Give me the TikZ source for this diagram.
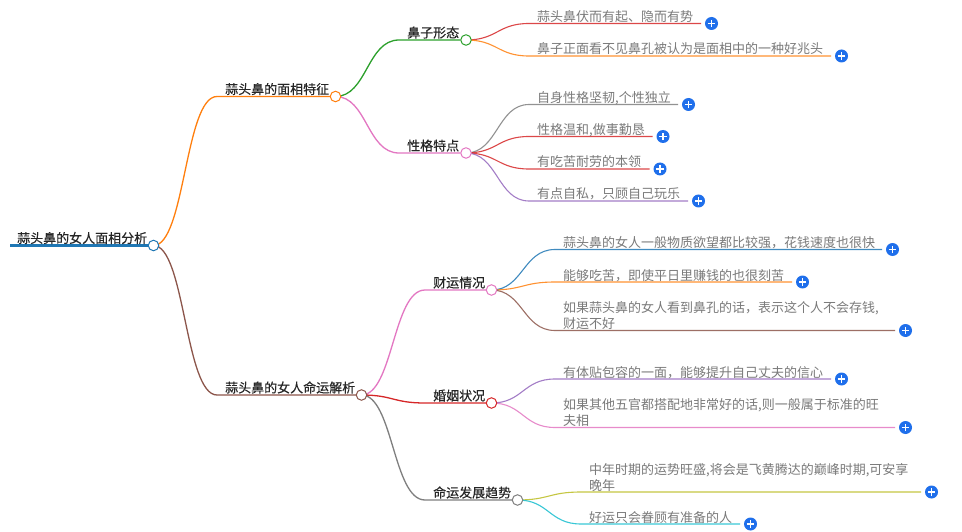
\documentclass[tikz,border=0pt]{standalone}
\usepackage{fontspec}
\setmainfont{Noto Sans CJK SC}
\newfontfamily\headfont[FakeBold=0.25]{Noto Sans CJK SC}
\usetikzlibrary{backgrounds}
\definecolor{cBlue}{HTML}{1F77B4}
\definecolor{cOrange}{HTML}{FF7F0E}
\definecolor{cGreen}{HTML}{2CA02C}
\definecolor{cRed}{HTML}{D62728}
\definecolor{cPurple}{HTML}{9467BD}
\definecolor{cBrown}{HTML}{8C564B}
\definecolor{cPink}{HTML}{E377C2}
\definecolor{cGray}{HTML}{7F7F7F}
\definecolor{cOlive}{HTML}{BCBD22}
\definecolor{cCyan}{HTML}{17BECF}
\definecolor{plusBlue}{HTML}{1F6FEB}
\newcommand{\fwc}{\char"FF0C\relax}
\tikzset{
  x=1pt,y=-1pt,
  branchdot/.style={circle,draw=#1,fill=white,line width=1pt,minimum size=10.5pt,inner sep=0pt},
  headtext/.style={anchor=base west,inner sep=0pt,font=\headfont\fontsize{13}{16}\selectfont,text=black!85},
  leaftext/.style={anchor=base west,inner sep=0pt,font=\fontsize{13}{16}\selectfont,text=black!52},
  pluscirc/.style={circle,fill=plusBlue,minimum size=13pt,inner sep=0pt,
    path picture={\draw[white,line width=1.3pt]
      ([xshift=-3.6pt]path picture bounding box.center) -- ([xshift=3.6pt]path picture bounding box.center)
      ([yshift=-3.6pt]path picture bounding box.center) -- ([yshift=3.6pt]path picture bounding box.center);}},
}
% id, parent, mid x, start x, y, end x, colour, text
\newcommand{\leafitem}[8]{%
  \coordinate (#1s) at (#4,#5);
  \coordinate (#1e) at (#6,#5);
  \coordinate (#1m) at (#3,#5);
  \node[leaftext] (#1t) at ([xshift=8pt,yshift=2pt]#1s) {#8};
  \node[pluscirc] (#1p) at ([xshift=10.5pt]#1e) {};
  \begin{scope}[on background layer]
    \draw[#7,line width=1.1pt,opacity=.85] (#2.center) .. controls (#2.center-|#1m) and (#1m) .. (#1s) -- (#1e);
  \end{scope}
}
% id, parent, mid x, start x, y, dot x, colour, text
\newcommand{\headitem}[8]{%
  \coordinate (#1s) at (#4,#5);
  \coordinate (#1m) at (#3,#5);
  \node[branchdot=#7] (#1) at (#6,#5) {};
  \node[headtext] (#1t) at ([xshift=8pt,yshift=2.5pt]#1s) {#8};
  \begin{scope}[on background layer]
    \draw[#7,line width=1.3pt] (#2.center) .. controls (#2.center-|#1m) and (#1m) .. (#1s) -- (#1);
  \end{scope}
}
\newcommand{\twolines}[2]{\vbox{\baselineskip=16pt\hbox{#1}\hbox{#2}}}
\begin{document}
\begin{tikzpicture}
\useasboundingbox (0,0) rectangle (962,532);
\begin{scope}[on background layer]
  \fill[white] (0,0) rectangle (962,532);
\end{scope}
% root
\coordinate (rootS) at (10,245.5);
\node[branchdot=cBlue] (root) at (153.5,245.5) {};
\node[headtext] (roott) at (17,243) {蒜头鼻的女人面相分析};
\begin{scope}[on background layer]
  \draw[cBlue,line width=3pt] (rootS) -- (root);
\end{scope}
% first level
\headitem{a}{root}{185}{217}{96.5}{335.5}{cOrange}{蒜头鼻的面相特征}
\headitem{b}{root}{185}{217}{395}{361.5}{cBrown}{蒜头鼻的女人命运解析}
% second level
\headitem{a1}{a}{367}{399}{40}{466}{cGreen}{鼻子形态}
\headitem{a2}{a}{367}{399}{153}{466}{cPink}{性格特点}
\headitem{b1}{b}{393}{425}{290}{491.5}{cPink}{财运情况}
\headitem{b2}{b}{393}{425}{403}{491.5}{cRed}{婚姻状况}
\headitem{b3}{b}{393}{425}{500}{517.5}{cGray}{命运发展趋势}
% leaves
\leafitem{l1}{a1}{497.5}{529}{23.5}{701}{cRed}{蒜头鼻伏而有起、隐而有势}
\leafitem{l2}{a1}{497.5}{529}{56}{831}{cOrange}{鼻子正面看不见鼻孔被认为是面相中的一种好兆头}
\leafitem{l3}{a2}{497.5}{529}{104.5}{678}{cGray}{自身性格坚韧,个性独立}
\leafitem{l4}{a2}{497.5}{529}{136.5}{652.5}{cRed}{性格温和,做事勤恳}
\leafitem{l5}{a2}{497.5}{529}{169}{649.5}{cRed}{有吃苦耐劳的本领}
\leafitem{l6}{a2}{497.5}{529}{201}{688}{cPurple}{有点自私\fwc 只顾自己玩乐}
\leafitem{l7}{b1}{523}{555}{249.5}{882}{cBlue}{蒜头鼻的女人一般物质欲望都比较强\fwc 花钱速度也很快}
\leafitem{l8}{b1}{523}{555}{282}{792}{cOrange}{能够吃苦\fwc 即使平日里赚钱的也很刻苦}
\leafitem{l9}{b1}{523}{555}{330.5}{895}{cBrown}{\twolines{如果蒜头鼻的女人看到鼻孔的话\fwc 表示这个人不会存钱,}{财运不好}}
\leafitem{l10}{b2}{523}{555}{379}{831}{cPurple}{有体贴包容的一面\fwc 能够提升自己丈夫的信心}
\leafitem{l11}{b2}{523}{555}{427.5}{895}{cPink}{\twolines{如果其他五官都搭配地非常好的话,则一般属于标准的旺}{夫相}}
\leafitem{l12}{b3}{549}{581}{492}{921}{cOlive}{\twolines{中年时期的运势旺盛,将会是飞黄腾达的巅峰时期,可安享}{晚年}}
\leafitem{l13}{b3}{549}{581}{524}{740}{cCyan}{好运只会眷顾有准备的人}
\end{tikzpicture}
\end{document}
